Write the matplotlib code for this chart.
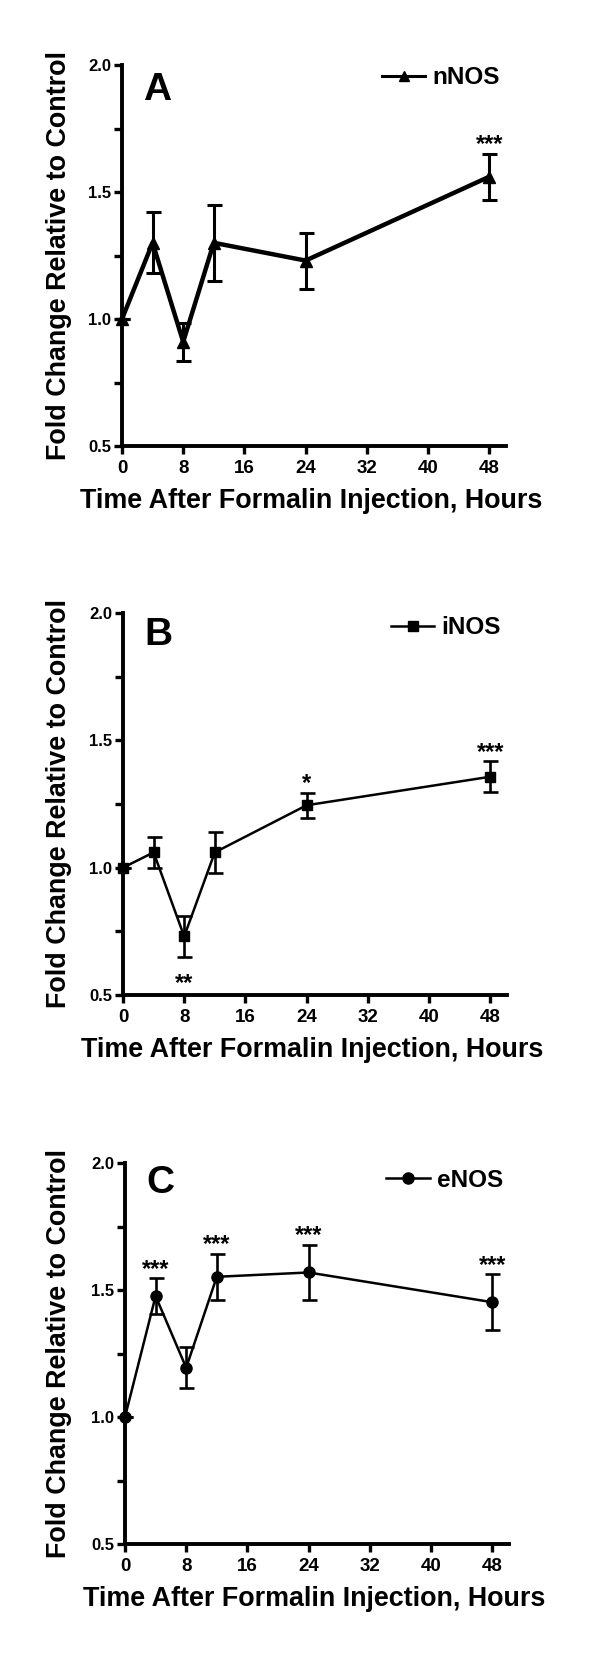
import matplotlib
matplotlib.use("Agg")
import matplotlib.pyplot as plt
from matplotlib.ticker import FixedLocator

plt.rcParams['font.family'] = ['Liberation Sans', 'DejaVu Sans']
plt.rcParams['font.weight'] = 'bold'

# ---------------- data ----------------
hours = [0, 4, 8, 12, 24, 48]
x_ticks = [0, 8, 16, 24, 32, 40, 48]
y_major = [0.5, 1.0, 1.5, 2.0]
y_minor = [0.75, 1.25, 1.75]

nnos_mean = [1.00, 1.30, 0.91, 1.30, 1.23, 1.56]
nnos_sem = [0.0, 0.12, 0.075, 0.15, 0.11, 0.09]
nnos_stars = ['', '', '', '', '', '***']

inos_mean = [1.00, 1.06, 0.73, 1.06, 1.245, 1.357]
inos_sem = [0.0, 0.06, 0.08, 0.08, 0.05, 0.06]
inos_stars = ['', '', '**', '', '*', '***']
inos_star_below = [False, False, True, False, False, False]

enos_mean = [1.00, 1.476, 1.194, 1.552, 1.569, 1.452]
enos_sem = [0.0, 0.07, 0.08, 0.09, 0.11, 0.11]
enos_stars = ['', '***', '', '***', '***', '***']

panel_letters = ['A', 'B', 'C']
series_names = ['nNOS', 'iNOS', 'eNOS']
xlabel = 'Time After Formalin Injection, Hours'
ylabel = 'Fold Change Relative to Control'

# ---------------- layout ----------------
W, H = 600, 1662
fig = plt.figure(figsize=(W / 100, H / 100), dpi=100)

# (left px, top px, bottom px) for each panel
panel_px = [(122, 65, 446), (123, 613, 995), (125, 1163, 1544)]
axis_w_px = 384
xmax = 50.2

panels = [
    dict(mean=nnos_mean, sem=nnos_sem, stars=nnos_stars, below=[False] * 6,
         marker='^', ms=8, lw=3.2, elw=2.2, leg_lw=2.2, leg_ms=7,
         letter_y=0.908, leg_y=0.966),
    dict(mean=inos_mean, sem=inos_sem, stars=inos_stars, below=inos_star_below,
         marker='s', ms=7.5, lw=1.8, elw=1.9, leg_lw=1.8, leg_ms=7.5,
         letter_y=0.916, leg_y=0.962),
    dict(mean=enos_mean, sem=enos_sem, stars=enos_stars, below=[False] * 6,
         marker='o', ms=8, lw=1.8, elw=1.9, leg_lw=1.8, leg_ms=8,
         letter_y=0.921, leg_y=0.955),
]

for i, p in enumerate(panels):
    left, top, bottom = panel_px[i]
    h_px = bottom - top
    rect = [left / W, 1 - bottom / H, axis_w_px / W, h_px / H]
    ax = fig.add_axes(rect)

    line, caps, bars = ax.errorbar(
        hours, p['mean'], yerr=p['sem'], color='black', marker=p['marker'],
        markersize=p['ms'], linewidth=p['lw'], elinewidth=p['elw'],
        capsize=5.4, capthick=p['elw'], clip_on=False, zorder=3)
    for c in caps:
        c.set_clip_on(False)
    for b in bars:
        b.set_clip_on(False)

    # significance stars
    for xv, m, s, st, bl in zip(hours, p['mean'], p['sem'], p['stars'], p['below']):
        if not st:
            continue
        if bl:
            ax.annotate(st, xy=(xv, m - s), xytext=(0, -24), textcoords='offset points',
                        ha='center', va='baseline', fontsize=17, fontweight='bold')
        else:
            ax.annotate(st, xy=(xv, m + s), xytext=(0, 1.8), textcoords='offset points',
                        ha='center', va='baseline', fontsize=17, fontweight='bold')

    ax.set_xlim(0, xmax)
    ax.set_ylim(0.5, 2.0)
    for side in ['top', 'right']:
        ax.spines[side].set_visible(False)
    for side in ['left', 'bottom']:
        ax.spines[side].set_linewidth(2.8)
        ax.spines[side].set_capstyle('projecting')

    ax.xaxis.set_major_locator(FixedLocator(x_ticks))
    ax.set_xticklabels([str(t) for t in x_ticks])
    ax.yaxis.set_major_locator(FixedLocator(y_major))
    ax.yaxis.set_minor_locator(FixedLocator(y_minor))
    ax.set_yticklabels([f'{v:.1f}' for v in y_major])
    ax.tick_params(axis='x', which='major', direction='out', length=5.8, width=2.4,
                   labelsize=13.5, pad=4)
    ax.tick_params(axis='y', which='both', direction='out', length=5.5, width=2.4,
                   labelsize=12, pad=2.5)
    for lab in ax.get_xticklabels() + ax.get_yticklabels():
        lab.set_fontweight('bold')

    ax.set_xlabel(xlabel, fontsize=19.4, fontweight='bold', ha='center', va='center')
    ax.xaxis.set_label_coords(0.4935, -55 / h_px)
    ax.set_ylabel(ylabel, fontsize=19.4, fontweight='bold', ha='center', va='center',
                  rotation_mode='default')
    ax.yaxis.set_label_coords((59 - left) / axis_w_px, 0.5)

    ax.text(0.055, p['letter_y'], panel_letters[i], transform=ax.transAxes,
            fontsize=28, fontweight='bold', ha='left', va='baseline')

    leg = ax.legend([line], [series_names[i]], loc='center right',
                    bbox_to_anchor=(0.985, p['leg_y']), frameon=False, borderpad=0,
                    borderaxespad=0, handlelength=1.8, handletextpad=0.3,
                    numpoints=1, prop=dict(size=17.5, weight='bold'))
    for hl in leg.legend_handles:
        hl.set_linewidth(p['leg_lw'])
        hl.set_markersize(p['leg_ms'])

fig.savefig('out.png', dpi=100, facecolor='white')
